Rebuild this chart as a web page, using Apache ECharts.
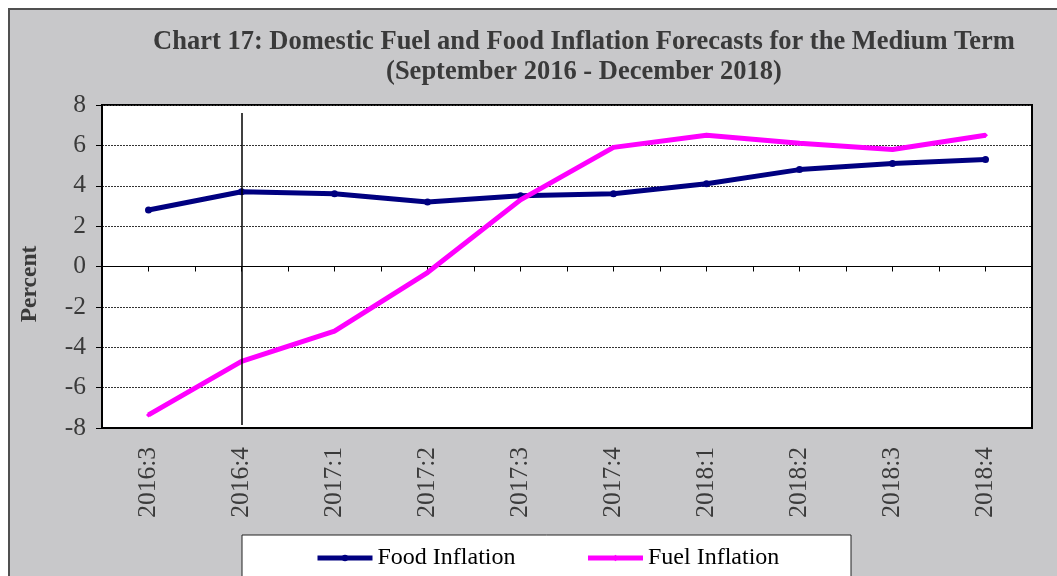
<!DOCTYPE html>
<html lang="en">
<head>
    <meta charset="utf-8">
    <title>Chart 17</title>
    <script src="https://cdn.jsdelivr.net/npm/echarts@6/dist/echarts.min.js"></script>
</head>
<body style="margin:0;background:#fff;">
<div id="main" style="width:1057px;height:576px;"></div>

<script type="text/javascript">
    var quarters = ['2016:3', '2016:4', '2017:1', '2017:2', '2017:3', '2017:4', '2018:1', '2018:2', '2018:3', '2018:4'];
    var foodInflation = [2.8, 3.7, 3.6, 3.2, 3.5, 3.6, 4.1, 4.8, 5.1, 5.3];
    var fuelInflation = [-7.35, -4.7, -3.2, -0.3, 3.3, 5.9, 6.5, 6.1, 5.8, 6.5];
    var forecastStart = '2016:4';

    var serif = '"Liberation Serif", "Times New Roman", serif';
    var myChart = echarts.init(document.getElementById('main'));

    var option = {
        backgroundColor: '#fff',
        animation: false,
        graphic: [
            {
                type: 'rect', z: -10, silent: true,
                shape: {x: 9, y: 9, width: 1060, height: 580},
                style: {fill: '#c8c8ca', stroke: '#505050', lineWidth: 2}
            },
            {
                type: 'rect', z: -5, silent: true,
                shape: {x: 242, y: 535, width: 609, height: 60},
                style: {fill: '#fff', stroke: '#222', lineWidth: 1}
            },
            {
                type: 'text', silent: true,
                x: 584, y: 42,
                style: {
                    text: 'Chart 17: Domestic Fuel and Food Inflation Forecasts for the Medium Term',
                    font: 'bold 26.5px ' + serif, fill: '#3a3a3a',
                    align: 'center', verticalAlign: 'middle'
                }
            },
            {
                type: 'text', silent: true,
                x: 584, y: 72,
                style: {
                    text: '(September 2016 - December 2018)',
                    font: 'bold 26.5px ' + serif, fill: '#3a3a3a',
                    align: 'center', verticalAlign: 'middle'
                }
            },
            {
                type: 'text', silent: true,
                x: 30, y: 284, rotation: Math.PI / 2,
                style: {
                    text: 'Percent',
                    font: 'bold 23.5px ' + serif, fill: '#3a3a3a',
                    align: 'center', verticalAlign: 'middle'
                }
            }
        ],
        legend: {
            left: 310, top: 541,
            itemWidth: 55, itemHeight: 8, itemGap: 70,
            textStyle: {fontFamily: serif, fontSize: 24, color: '#000'},
            lineStyle: {width: 5},
            data: ['Food Inflation', 'Fuel Inflation']
        },
        grid: {
            left: 102, right: 25, top: 105, bottom: 148,
            show: true, backgroundColor: '#fff',
            borderColor: '#000', borderWidth: 2
        },
        xAxis: [
            {
                type: 'category', data: quarters, position: 'bottom',
                axisLine: {onZero: false, lineStyle: {color: '#000', width: 2}},
                axisTick: {show: false},
                axisLabel: {rotate: 90, margin: 19, fontFamily: serif, fontSize: 25.5, color: '#3a3a3a'},
                splitLine: {show: false}
            },
            {
                type: 'category', data: quarters, position: 'bottom',
                axisLine: {onZero: true, onZeroAxisIndex: 0, lineStyle: {color: '#000', width: 1}},
                axisTick: {show: true, length: 5, lineStyle: {color: '#000'}},
                axisLabel: {show: false},
                splitLine: {show: false}
            },
            {
                type: 'category', data: quarters, position: 'bottom',
                axisLine: {show: false, onZero: true, onZeroAxisIndex: 1},
                axisTick: {show: true, alignWithLabel: true, length: 5, lineStyle: {color: '#000'}},
                axisLabel: {show: false},
                splitLine: {show: false}
            }
        ],
        yAxis: [
            {
                type: 'value', min: -8, max: 8, interval: 2,
                axisLine: {show: true, lineStyle: {color: '#000', width: 2}},
                axisTick: {show: true, length: 6, lineStyle: {color: '#000'}},
                axisLabel: {margin: 16, fontFamily: serif, fontSize: 25.5, color: '#3a3a3a'},
                splitLine: {lineStyle: {color: '#333', type: [2, 1], width: 1}}
            },
            {
                type: 'value', min: -8, max: 8, interval: 2, position: 'left',
                show: false
            }
        ],
        series: [
            {
                name: 'Food Inflation', type: 'line', data: foodInflation,
                color: '#000080',
                symbol: 'circle', symbolSize: 7,
                lineStyle: {width: 5, color: '#000080'},
                itemStyle: {color: '#000080'},
                z: 3,
                markLine: {
                    silent: true, symbol: 'none', label: {show: false},
                    lineStyle: {color: '#000', width: 1.5, type: 'solid'},
                    data: [[{xAxis: forecastStart, yAxis: 7.6}, {xAxis: forecastStart, yAxis: -7.85}]]
                }
            },
            {
                name: 'Fuel Inflation', type: 'line', data: fuelInflation,
                color: '#ff00ff',
                symbol: 'diamond', symbolSize: 5,
                lineStyle: {width: 5, color: '#ff00ff'},
                itemStyle: {color: '#ff00ff'},
                z: 4
            }
        ]
    };

    myChart.setOption(option);
</script>

</body>
</html>
